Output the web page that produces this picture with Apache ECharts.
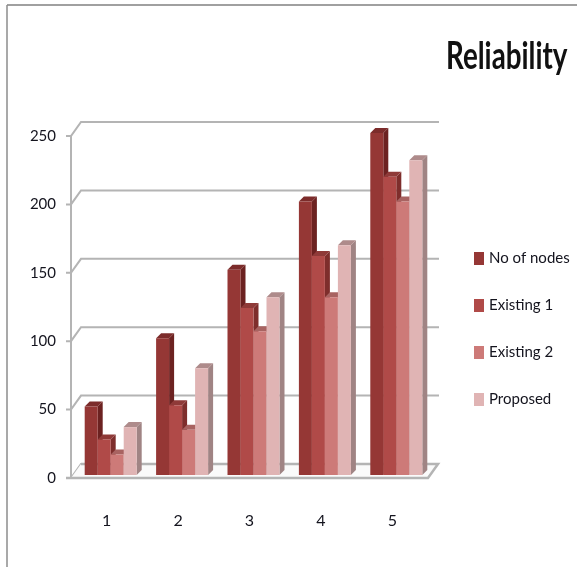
<!DOCTYPE html>
<html>
<head>
<meta charset="utf-8">
<style>html,body{margin:0;padding:0;background:#fff}#chart{width:577px;height:567px;filter:blur(0.5px)}</style>
<script src="https://cdn.jsdelivr.net/npm/echarts@6/dist/echarts.min.js"></script>
</head>
<body>
<div id="chart"></div>
<script>
var categories = ['1', '2', '3', '4', '5'];
var tick_values = [0, 50, 100, 150, 200, 250];
var no_of_nodes = [50, 100, 150, 200, 250];
var existing_1 = [26, 51, 122, 160, 218];
var existing_2 = [15, 33, 105, 130, 200];
var proposed = [35, 78, 130, 168, 230];

var series_names = ['No of nodes', 'Existing 1', 'Existing 2', 'Proposed'];
var series_values = [no_of_nodes, existing_1, existing_2, proposed];
var front_colors = ['#953735', '#b04a48', '#cd7a78', '#e0b4b4'];
var top_colors = ['#7c2c2b', '#8f3a38', '#a86361', '#ae8b8b'];
var side_colors = ['#6c2221', '#7e2e2c', '#98605e', '#a08484'];

var font = 'Lato, "Liberation Sans", sans-serif';
var text_color = '#14141e';
var grid_color = '#b4b4b4';

// wall depth of the fake 3d box, bars sit part way in
var wall_dx = 10, wall_dy = -14;
var bar_dx = 4, bar_dy = -3;
var bar_width = 13, cap = 5;

function renderWall(params, api) {
    var v = api.value(0);
    var p = api.coord([0, v]);
    var band = api.size([1, 0])[0];
    var x0 = p[0] - band / 2;
    var x1 = x0 + band * categories.length;
    var y = p[1];
    var style = { stroke: grid_color, lineWidth: 2, fill: null };
    var children = [
        { type: 'polyline', shape: { points: [[x0 - 5, y], [x0, y], [x0 + wall_dx, y + wall_dy], [x1 + wall_dx + 1, y + wall_dy]] }, style: style }
    ];
    if (v === 0) {
        children.push({ type: 'polygon', shape: { points: [[x0, y], [x0 + wall_dx, y + wall_dy], [x1 + wall_dx, y + wall_dy], [x1, y]] }, style: { fill: '#fafafa' } });
        children.push({ type: 'polyline', shape: { points: [[x0 + wall_dx, y + wall_dy], [x1 + wall_dx, y + wall_dy], [x1, y], [x0 - 5, y]] }, style: { stroke: grid_color, lineWidth: 2.5, fill: null } });
    }
    return { type: 'group', children: children };
}

function barRenderer(s) {
    return function (params, api) {
        var top = api.coord([api.value(0), api.value(1)]);
        var base = api.coord([api.value(0), 0]);
        var left = top[0] + bar_dx + (s - 2) * bar_width;
        var right = left + bar_width;
        var y0 = top[1] + bar_dy;
        var y1 = base[1] + bar_dy;
        return {
            type: 'group',
            children: [
                { type: 'polygon', shape: { points: [[right, y0], [right + cap, y0 - cap], [right + cap, y1 - cap], [right, y1]] }, style: { fill: side_colors[s] } },
                { type: 'polygon', shape: { points: [[left, y0], [left + cap, y0 - cap], [right + cap, y0 - cap], [right, y0]] }, style: { fill: top_colors[s] } },
                { type: 'rect', shape: { x: left, y: y0, width: bar_width, height: y1 - y0 }, style: { fill: front_colors[s] } }
            ]
        };
    };
}

var series = [{
    type: 'custom',
    name: 'wall',
    silent: true,
    renderItem: renderWall,
    data: tick_values.map(function (v) { return [v]; }),
    encode: { y: 0 },
    z: 1
}];

series_values.forEach(function (values, s) {
    series.push({
        type: 'custom',
        name: series_names[s],
        renderItem: barRenderer(s),
        itemStyle: { color: front_colors[s] },
        data: values.map(function (v, i) { return [i, v]; }),
        encode: { x: 0, y: 1 },
        z: 2 + s
    });
});

var chart = echarts.init(document.getElementById('chart'));
chart.setOption({
    animation: false,
    backgroundColor: '#ffffff',
    legend: {
        data: series_names,
        orient: 'vertical',
        left: 474,
        top: 251,
        padding: 0,
        itemWidth: 10,
        itemHeight: 13,
        itemGap: 32,
        icon: 'rect',
        textStyle: { fontFamily: font, fontSize: 15, color: text_color }
    },
    grid: { left: 71, top: 136, width: 357, height: 342 },
    xAxis: {
        type: 'category',
        data: categories,
        axisLine: { show: false },
        axisTick: { show: false },
        axisLabel: { margin: 35, fontFamily: font, fontSize: 16, color: text_color }
    },
    yAxis: {
        type: 'value',
        min: 0,
        max: 250,
        interval: 50,
        axisLine: { show: true, lineStyle: { color: grid_color, width: 2 } },
        axisTick: { show: false },
        splitLine: { show: false },
        axisLabel: { margin: 15, padding: [8, 0, 0, 0], fontFamily: font, fontSize: 15, color: text_color }
    },
    graphic: [
        { type: 'line', shape: { x1: 7, y1: 5, x2: 577, y2: 5 }, style: { stroke: '#a0a0a0', lineWidth: 2 } },
        { type: 'line', shape: { x1: 7, y1: 5, x2: 7, y2: 567 }, style: { stroke: '#8c8c8c', lineWidth: 1.5 } },
        { type: 'text', x: 446, y: 38, scaleX: 0.73, style: { text: 'Reliability', fontFamily: font, fontSize: 38, fontWeight: 'bold', fill: '#111111' } }
    ],
    series: series
});
</script>
</body>
</html>
